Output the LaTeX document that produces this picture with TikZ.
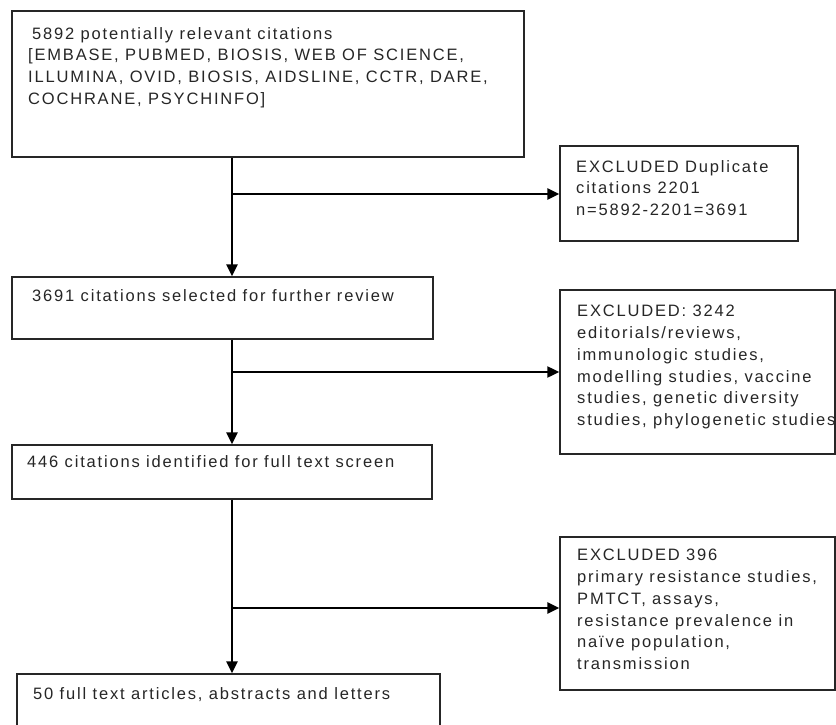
\documentclass[tikz,border=0pt]{standalone}
\usepackage{fontspec}
\setmainfont{Liberation Sans}[LetterSpace=11]
\usetikzlibrary{arrows.meta,fit}
\begin{document}
\begin{tikzpicture}[x=1pt,y=-1pt,
  box/.style={draw=black!85, line width=1.3pt, inner sep=0pt, rectangle},
  txt/.style={anchor=north west, inner sep=0pt, align=left, text=black!85,
    font=\fontsize{16.5}{21.8}\selectfont},
  arr/.style={draw=black, line width=2.4pt, -{Triangle[length=12pt,width=11pt]}},
  ln/.style={draw=black, line width=2.4pt}
]
\useasboundingbox[fill=white] (0,0) rectangle (836,725);

% boxes
\node[box, fit={(12,11) (524,157)}] (b1) {};
\node[box, fit={(560,146) (798,241)}] (ea) {};
\node[box, fit={(12,277) (433,339)}] (b2) {};
\node[box, fit={(560,290) (835,454)}] (eb) {};
\node[box, fit={(12,445) (432,499)}] (b3) {};
\node[box, fit={(560,537) (835,690)}] (ec) {};
\node[box, fit={(17,674) (440,740)}] (b4) {};

% texts
\node[txt] (t1) at (28,27) {\hspace*{4pt}5892 potentially relevant citations\\
{[}EMBASE, PUBMED, BIOSIS, WEB OF SCIENCE,\\
ILLUMINA, OVID, BIOSIS, AIDSLINE, CCTR, DARE,\\
COCHRANE, PSYCHINFO{]}};
\node[txt] (ta) at (576,160) {EXCLUDED Duplicate\\citations 2201\\n=5892-2201=3691};
\node[txt] (t2) at (32,289) {3691 citations selected for further review};
\node[txt] (tb) at (577,305) {EXCLUDED: 3242\\editorials/reviews,\\immunologic studies,\\modelling studies, vaccine\\studies, genetic diversity\\studies, phylogenetic studies};
\node[txt] (t3) at (27,455) {446 citations identified for full text screen};
\node[txt] (tc) at (577,549) {EXCLUDED 396\\primary resistance studies,\\PMTCT, assays,\\resistance prevalence in\\naïve population,\\transmission};
\node[txt] (t4) at (33,687) {50 full text articles, abstracts and letters};

% junctions on the main vertical line
\coordinate (j1) at (232,194);
\coordinate (j2) at (232,372);
\coordinate (j3) at (232,608);
\coordinate (k2) at (390,372);

% main flow
\draw[arr] (b1.south -| j1) -- (b2.north -| j1);
\draw[arr] (b2.south -| j2) -- (b3.north -| j2);
\draw[arr] (b3.south -| j3) -- (b4.north -| j3);

% exclusions
\draw[arr] (j1) -- (ea.west |- j1);
\draw[arr, line width=2pt] (j2) -- (eb.west |- j2);
\draw[ln, line width=2.8pt] (k2) -- ([xshift=-10pt]eb.west |- k2);
\draw[arr] (j3) -- (ec.west |- j3);
\end{tikzpicture}
\end{document}
